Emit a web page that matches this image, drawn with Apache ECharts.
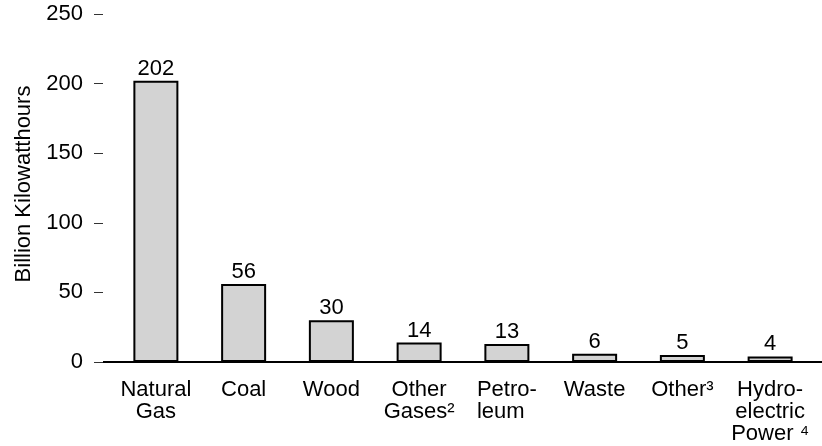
<!DOCTYPE html>
<html>
<head>
<meta charset="utf-8">
<script src="https://cdn.jsdelivr.net/npm/echarts@6/dist/echarts.min.js"></script>
<style>
  html, body { margin: 0; padding: 0; background: #fff; }
  #chart { width: 822px; height: 446px; }
</style>
</head>
<body>
<div id="chart"></div>
<script>
const categories = [
  "Natural\nGas",
  "Coal",
  "Wood",
  "Other\nGases\u00b2",
  "Petro-\nleum  ",
  "Waste",
  "Other\u00b3",
  "Hydro-\nelectric\nPower \u2074",
];
const values = [202, 56, 30, 14, 13, 6, 5, 4];
const yTicks = { min: 0, max: 250, interval: 50 };

const font = "'Liberation Sans', Arial, sans-serif";

const chart = echarts.init(document.getElementById("chart"));

const option = {
  animation: false,
  grid: { left: 112, right: 8, top: 14, bottom: 84 },
  xAxis: {
    type: "category",
    data: categories,
    axisLine: { lineStyle: { color: "#000", width: 2 } },
    axisTick: { show: false },
    axisLabel: {
      color: "#000",
      fontFamily: font,
      fontSize: 22,
      lineHeight: 22,
      margin: 17,
      interval: 0,
    },
  },
  yAxis: {
    type: "value",
    min: yTicks.min,
    max: yTicks.max,
    interval: yTicks.interval,
    offset: 9,
    name: "Billion Kilowatthours",
    nameLocation: "middle",
    nameGap: 68,
    nameTextStyle: {
      color: "#000",
      fontFamily: font,
      fontSize: 22,
      padding: [0, 0, 0, 8],
    },
    axisLine: { show: false },
    axisTick: { show: true, length: 9, lineStyle: { color: "#333", width: 1 } },
    splitLine: { show: false },
    axisLabel: {
      color: "#000",
      fontFamily: font,
      fontSize: 22,
      margin: 20,
    },
  },
  series: [
    {
      type: "bar",
      data: values,
      barWidth: 45,
      itemStyle: { color: "#d3d3d3", borderColor: "#000", borderWidth: 2 },
      label: {
        show: true,
        position: "top",
        distance: 1,
        color: "#000",
        fontFamily: font,
        fontSize: 22,
      },
    },
  ],
};

chart.setOption(option);

// baseline runs past the category band on both sides
const y0 = chart.convertToPixel({ yAxisIndex: 0 }, 0);
chart.setOption({
  graphic: [
    {
      type: "line",
      shape: { x1: 103, y1: y0, x2: 822, y2: y0 },
      style: { stroke: "#000", lineWidth: 2 },
      z: 10,
    },
  ],
});
</script>
</body>
</html>
